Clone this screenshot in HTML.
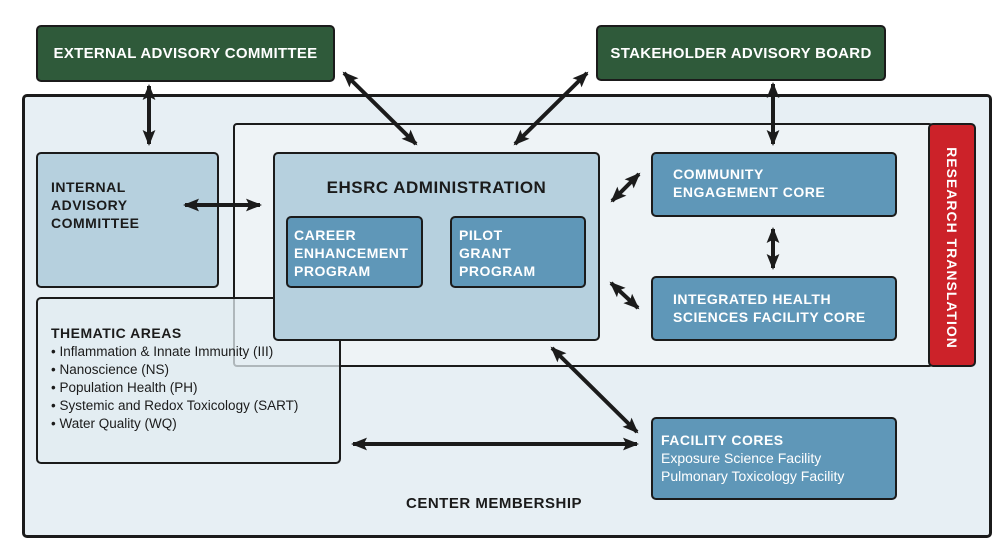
<!DOCTYPE html>
<html><head><meta charset="utf-8"><style>
body{margin:0;width:1008px;height:557px;background:#fff;position:relative;overflow:hidden;font-family:"Liberation Sans",sans-serif;font-weight:bold}
.b{position:absolute;box-sizing:border-box;border:2.5px solid #1b1b1b;border-radius:5px}
.g{background:#2f5a3a;color:#fff;font-size:15px;letter-spacing:.3px;display:flex;align-items:center;justify-content:center}
.m{background:#5f97b8;color:#fff;font-size:14px;letter-spacing:.5px;line-height:18px}
.l{background:#b6d0de;color:#1b1b1b}
</style></head><body>
<div class="b" style="left:22px;top:94px;width:970px;height:444px;background:#e7eff4;border-width:3px"></div>
<div class="b" style="left:233px;top:123px;width:700px;height:244px;background:#eef3f6;border-radius:4px"></div>
<div class="b" style="left:928px;top:123px;width:48px;height:244px;background:#cc2229"></div>
<div style="position:absolute;left:952px;top:248px;transform:translate(-50%,-50%) rotate(90deg);color:#fff;font-size:14px;letter-spacing:1px;white-space:nowrap">RESEARCH TRANSLATION</div>
<div class="b g" style="left:36px;top:25px;width:299px;height:57px">EXTERNAL ADVISORY COMMITTEE</div>
<div class="b g" style="left:596px;top:25px;width:290px;height:56px">STAKEHOLDER ADVISORY BOARD</div>
<div class="b l" style="left:36px;top:152px;width:183px;height:136px;padding:24px 0 0 13px;font-size:14px;line-height:18px;letter-spacing:.5px">INTERNAL<br>ADVISORY<br>COMMITTEE</div>
<div class="b" style="left:36px;top:297px;width:305px;height:167px;background:rgba(225,236,242,.75);padding:26px 0 0 13px;color:#1b1b1b">
<div style="font-size:14px;letter-spacing:.5px">THEMATIC AREAS</div>
<div style="font-weight:normal;font-size:13.5px;line-height:18px;margin-top:2px">• Inflammation &amp; Innate Immunity (III)<br>• Nanoscience (NS)<br>• Population Health (PH)<br>• Systemic and Redox Toxicology (SART)<br>• Water Quality (WQ)</div></div>
<div class="b l" style="left:273px;top:152px;width:327px;height:189px;text-align:center;padding-top:24px;font-size:17px;letter-spacing:.5px">EHSRC ADMINISTRATION</div>
<div class="b m" style="left:286px;top:216px;width:137px;height:72px;padding:8px 0 0 6px">CAREER<br>ENHANCEMENT<br>PROGRAM</div>
<div class="b m" style="left:450px;top:216px;width:136px;height:72px;padding:8px 0 0 7px">PILOT<br>GRANT<br>PROGRAM</div>
<div class="b m" style="left:651px;top:152px;width:246px;height:65px;padding:11px 0 0 20px">COMMUNITY<br>ENGAGEMENT CORE</div>
<div class="b m" style="left:651px;top:276px;width:246px;height:65px;padding:12px 0 0 20px">INTEGRATED HEALTH<br>SCIENCES FACILITY CORE</div>
<div class="b m" style="left:651px;top:417px;width:246px;height:83px;padding:12px 0 0 8px">FACILITY CORES<div style="font-weight:normal;font-size:14px;letter-spacing:0">Exposure Science Facility<br>Pulmonary Toxicology Facility</div></div>
<div style="position:absolute;left:406px;top:495px;font-size:15px;letter-spacing:.5px;color:#1b1b1b">CENTER MEMBERSHIP</div>
<svg width="1008" height="557" style="position:absolute;left:0;top:0">
<defs><marker id="a" markerWidth="4" markerHeight="4" refX="3.5" refY="2" orient="auto-start-reverse" markerUnits="strokeWidth"><path d="M0,0.4 L4,2 L0,3.6 L0.8,2z" fill="#1b1b1b"/></marker></defs>
<g stroke="#1b1b1b" stroke-width="4" marker-start="url(#a)" marker-end="url(#a)">
<line x1="149" y1="86" x2="149" y2="144"/>
<line x1="344" y1="73" x2="416" y2="144"/>
<line x1="587" y1="73" x2="515" y2="144"/>
<line x1="773" y1="84" x2="773" y2="144"/>
<line x1="185" y1="205" x2="260" y2="205"/>
<line x1="612" y1="201" x2="639" y2="174"/>
<line x1="611" y1="283" x2="638" y2="308"/>
<line x1="773" y1="229" x2="773" y2="268"/>
<line x1="552" y1="348" x2="637" y2="432"/>
<line x1="353" y1="444" x2="637" y2="444"/>
</g></svg>
</body></html>
